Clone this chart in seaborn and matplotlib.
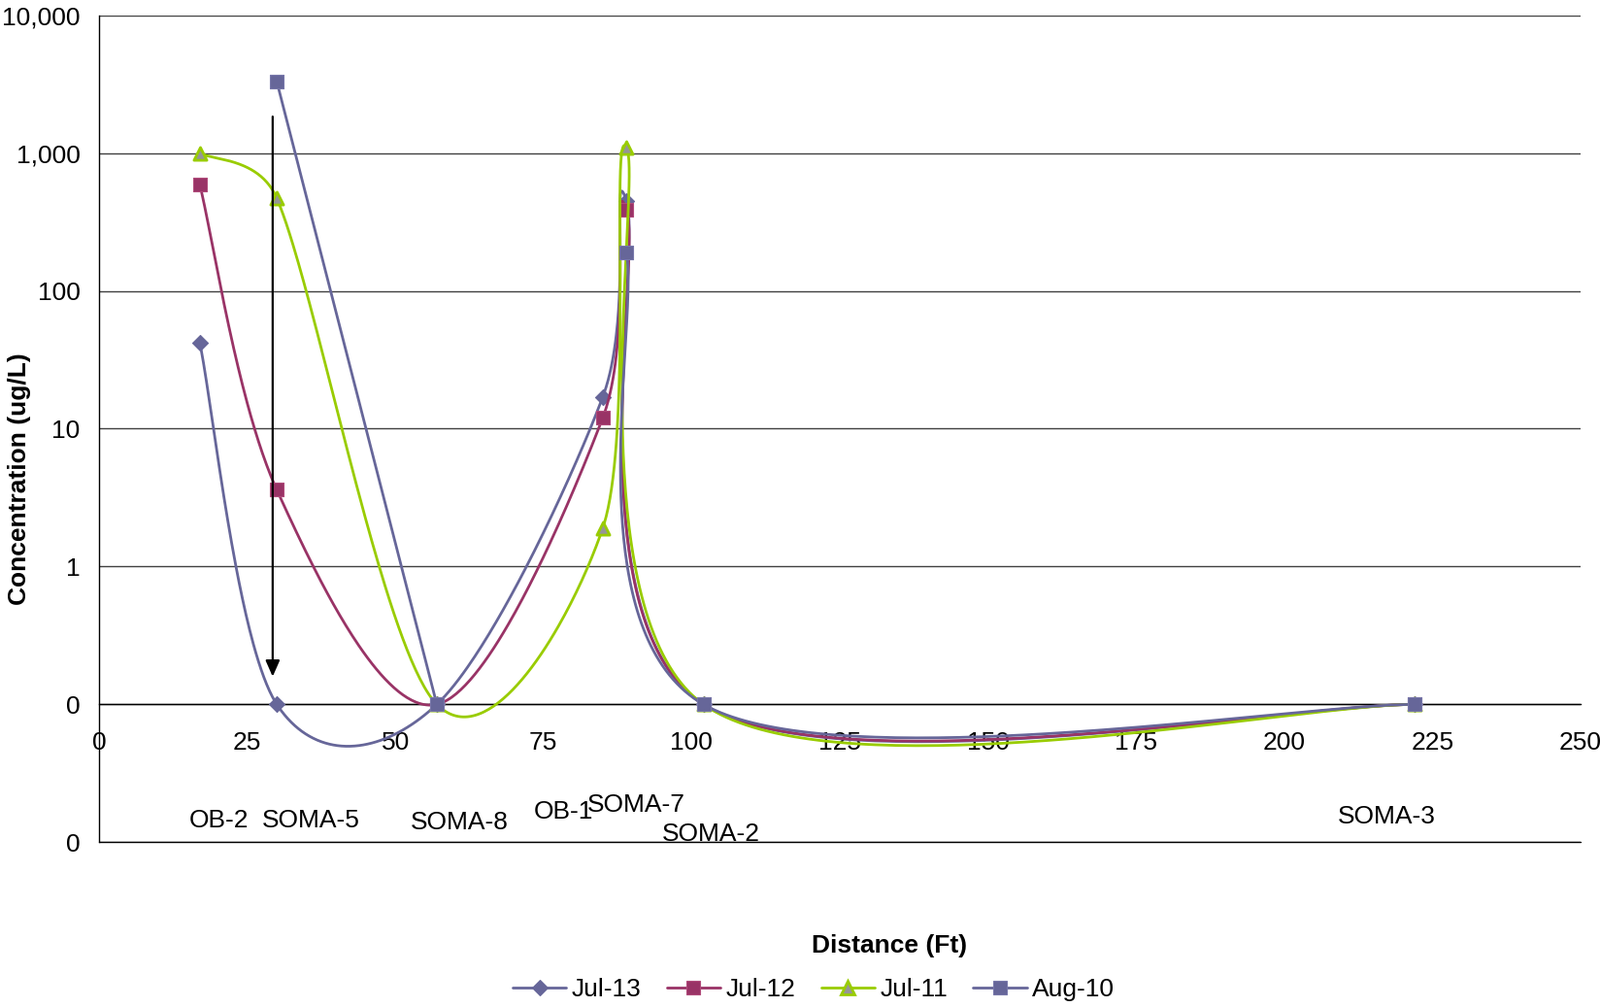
import numpy as np
import matplotlib
matplotlib.use("Agg")
import matplotlib.pyplot as plt
import seaborn as sns
from matplotlib.lines import Line2D
from matplotlib.ticker import FixedLocator, FuncFormatter, NullLocator

# ---------------- data ----------------
wells = ["OB-2", "SOMA-5", "SOMA-8", "OB-1", "SOMA-7", "SOMA-2", "SOMA-3"]
distance_ft = [17, 30, 57, 85, 89, 102, 222]
jul13 = [42, 0.1, 0.1, 17, 450, 0.1, 0.1]
jul12 = [590, 3.6, 0.1, 12, 390, 0.1, 0.1]
jul11 = [1000, 470, 0.1, 1.9, 1100, 0.1, 0.1]
aug10 = [None, 3300, 0.1, None, 190, 0.1, 0.1]
series_names = ["Jul-13", "Jul-12", "Jul-11", "Aug-10"]
x_ticks = [0, 25, 50, 75, 100, 125, 150, 175, 200, 225, 250]
y_ticks = [0.01, 0.1, 1, 10, 100, 1000, 10000]

# well-name text positions (x in ft, y in ug/L)
well_label_x = [20.3, 35.7, 60.8, 78.3, 90.6, 103.2, 217.2]
well_label_y = [0.0143, 0.0143, 0.0139, 0.0166, 0.0186, 0.0114, 0.0153]

# ---------------- style ----------------
sns.set_style("white")
plt.rcParams["font.family"] = ["Liberation Sans", "DejaVu Sans"]
plt.rcParams["text.color"] = "black"
plt.rcParams["axes.labelcolor"] = "black"
FS = 19
LW = 2.0

colors = {"Jul-13": "#666699", "Jul-12": "#993366", "Jul-11": "#99CC00", "Aug-10": "#666699"}
markers = {
    "Jul-13": dict(marker="D", ms=8.2, mfc="#666699", mec="#666699", mew=0.8),
    "Jul-12": dict(marker="s", ms=10.5, mfc="#993366", mec="#B04A7A", mew=0.8),
    "Jul-11": dict(marker="^", ms=9.5, mfc="#969696", mec="#99CC00", mew=2.0),
    "Aug-10": dict(marker="s", ms=10.5, mfc="#666699", mec="#7777AA", mew=0.8),
}
values = {"Jul-13": jul13, "Jul-12": jul12, "Jul-11": jul11, "Aug-10": aug10}

fig = plt.figure(figsize=(16.48, 10.37), dpi=100)
ax = fig.add_axes([102 / 1648, 1 - 867.3 / 1037, 1526 / 1648, (867.3 - 15.7) / 1037])
ax.set_yscale("log")
ax.set_xlim(0, 250)
ax.set_ylim(0.01, 10000)


def excel_smooth(xs, ys, n=80):
    """Excel-style smoothed line (Bezier through points, computed in display space)."""
    P = ax.transData.transform(np.column_stack([xs, ys]))
    m = len(P)
    out = [P[0]]
    for i in range(m - 1):
        p0 = P[i - 1] if i > 0 else P[i]
        p1, p2 = P[i], P[i + 1]
        p3 = P[i + 2] if i + 2 < m else P[i + 1]
        d12 = np.hypot(*(p2 - p1))
        d02 = np.hypot(*(p2 - p0))
        d13 = np.hypot(*(p3 - p1))
        f0 = 1 / 6 if d02 / 6 < d12 / 2 else (d12 / (2 * d02) if d02 > 0 else 0)
        f1 = 1 / 6 if d13 / 6 < d12 / 2 else (d12 / (2 * d13) if d13 > 0 else 0)
        c1 = p1 + f0 * (p2 - p0)
        c2 = p2 - f1 * (p3 - p1)
        t = np.linspace(0, 1, n)[1:, None]
        B = (1 - t) ** 3 * p1 + 3 * (1 - t) ** 2 * t * c1 + 3 * (1 - t) * t ** 2 * c2 + t ** 3 * p2
        out.extend(B)
    D = ax.transData.inverted().transform(np.array(out))
    return D[:, 0], D[:, 1]


def runs(xs, ys):
    cur_x, cur_y = [], []
    for x, y in zip(xs, ys):
        if y is None:
            if cur_x:
                yield cur_x, cur_y
            cur_x, cur_y = [], []
        else:
            cur_x.append(x)
            cur_y.append(y)
    if cur_x:
        yield cur_x, cur_y


for k, name in enumerate(series_names):
    c = colors[name]
    for rx, ry in runs(distance_ft, values[name]):
        if len(rx) >= 2:
            sx, sy = excel_smooth(rx, ry)
            sns.lineplot(x=sx, y=sy, ax=ax, color=c, lw=LW, sort=False,
                         estimator=None, legend=False, zorder=3 + k)
    mx = [x for x, y in zip(distance_ft, values[name]) if y is not None]
    my = [y for y in values[name] if y is not None]
    mk = markers[name]
    sns.scatterplot(x=mx, y=my, ax=ax, marker=mk["marker"], s=mk["ms"] ** 2,
                    color=mk["mfc"], edgecolor=mk["mec"], linewidth=mk["mew"],
                    legend=False, zorder=3.5 + k)

# arrow
arrow_x, arrow_top, arrow_bottom = 29.3, 1840, 0.159
ax.annotate("", xy=(arrow_x, arrow_bottom), xytext=(arrow_x, arrow_top),
            arrowprops=dict(arrowstyle="-|>,head_length=0.5,head_width=0.22",
                            color="black", lw=1.6, mutation_scale=20,
                            shrinkA=0, shrinkB=0), zorder=10)

# well labels
for lab, lx, ly in zip(wells, well_label_x, well_label_y):
    ax.text(lx, ly, lab, ha="center", va="center", fontsize=FS, color="black")

# axes styling
for s in ["top", "right"]:
    ax.spines[s].set_visible(False)
ax.spines["bottom"].set_position(("data", 0.1))
ax.spines["bottom"].set_color("black")
ax.spines["bottom"].set_linewidth(1.0)
ax.spines["left"].set_color("black")
ax.spines["left"].set_linewidth(1.0)

ax.xaxis.set_major_locator(FixedLocator(x_ticks))
ax.yaxis.set_major_locator(FixedLocator(y_ticks))
ax.yaxis.set_minor_locator(NullLocator())
ax.yaxis.set_major_formatter(FuncFormatter(lambda v, p: "0" if v < 1 else f"{v:,.0f}"))
ax.tick_params(axis="x", direction="out", length=6, width=1, color="#808080",
               labelsize=FS, pad=14, labelcolor="black")
ax.tick_params(axis="y", direction="out", length=6, width=1, color="#404040",
               labelsize=FS, pad=8, labelcolor="black")
ax.yaxis.grid(True, color="#404040", lw=1)
ax.xaxis.grid(False)
ax.set_axisbelow(True)
ax.axhline(y_ticks[0], color="black", lw=1, clip_on=False, zorder=1)
ax.set_xlabel("")
ax.set_ylabel("")

fig.text(916 / 1648, 1 - 974 / 1037, "Distance (Ft)", ha="center", va="center",
         fontsize=FS, fontweight="bold", color="black")
fig.text(20 / 1648, 1 - 493 / 1037, "Concentration (ug/L)", ha="center", va="center",
         rotation=90, fontsize=FS, fontweight="bold", color="black")

handles = []
for name in series_names:
    mk = markers[name]
    handles.append(Line2D([], [], color=colors[name], lw=LW, marker=mk["marker"],
                          ms=mk["ms"], mfc=mk["mfc"], mec=mk["mec"], mew=mk["mew"]))
leg = fig.legend(handles, series_names, loc="center", bbox_to_anchor=(838 / 1648, 1 - 1019 / 1037),
                 ncol=4, frameon=False, fontsize=FS, handlelength=2.1, handletextpad=0.2,
                 columnspacing=1.0, borderpad=0)
for t in leg.get_texts():
    t.set_color("black")

fig.savefig("out.png", dpi=100)
